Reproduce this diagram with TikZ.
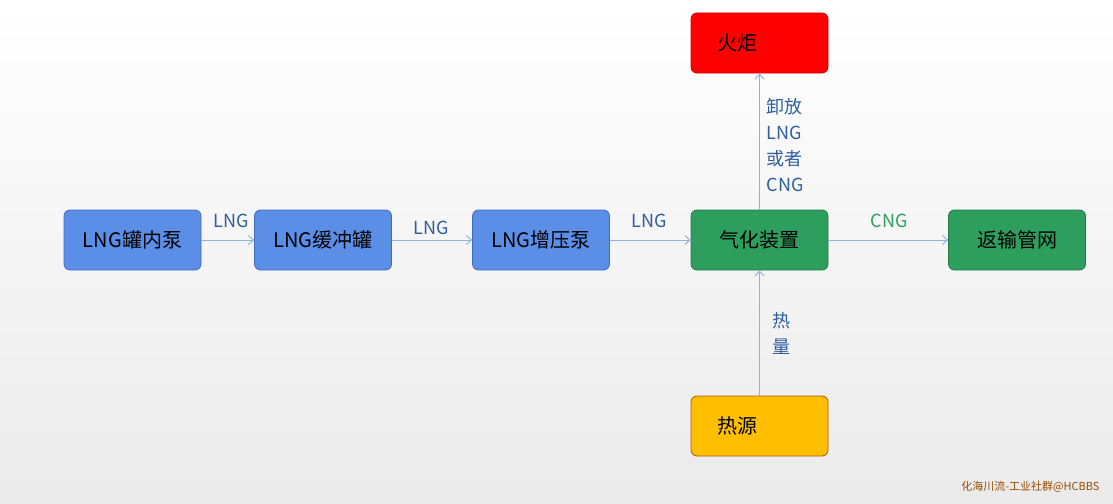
\documentclass[tikz,border=0pt]{standalone}
\usepackage{fontspec}
\setmainfont{Noto Sans CJK SC}
\usetikzlibrary{arrows.meta}
\definecolor{bfill}{HTML}{5B8EE6}
\definecolor{bdraw}{HTML}{3D6CC0}
\definecolor{gfill}{HTML}{2E9E5E}
\definecolor{gdraw}{HTML}{24784A}
\definecolor{arr}{HTML}{8DB3E2}
\definecolor{lab}{HTML}{2F5E9E}
\definecolor{cnglab}{HTML}{2E9E5E}
\begin{document}
\begin{tikzpicture}[x=1pt,y=-1pt,
  box/.style={rounded corners=6pt,minimum width=137pt,minimum height=60pt,line width=0.8pt,font=\fontsize{20}{24}\selectfont,inner sep=0pt},
  bluebox/.style={box,fill=bfill,draw=bdraw},
  greenbox/.style={box,fill=gfill,draw=gdraw},
  conn/.style={draw=arr,line width=1pt,-{Straight Barb[length=5pt,width=9pt]}},
  lbl/.style={text=lab,font=\fontsize{18}{20}\selectfont,inner sep=1pt}]
\shade[top color=white,bottom color=black!8] (0,0) rectangle (1113,503);
\useasboundingbox (0,0) rectangle (1113,503);
\node[bluebox] (a) at (132.5,240) {LNG罐内泵};
\node[bluebox] (b) at (323,240) {LNG缓冲罐};
\node[bluebox] (c) at (541,240) {LNG增压泵};
\node[greenbox] (d) at (759.5,240) {气化装置};
\node[greenbox] (e) at (1017,240) {返输管网};
\node[box,fill=red,draw=red!80!black] (f) at (759.5,43) {\hspace*{-44pt}火炬};
\node[box,fill=orange!50!yellow,draw=orange!70!black] (g) at (759.5,426) {\hspace*{-44pt}热源};
\draw[conn] (a) -- (b);
\draw[conn] (b) -- (c);
\draw[conn] (c) -- (d);
\draw[conn] (d) -- (e);
\draw[conn] (d) -- (f);
\draw[conn] (g) -- (d);
\node[lbl] (l1) at (231,221) {LNG};
\node[lbl] (l2) at (431,228) {LNG};
\node[lbl] (l3) at (649,221) {LNG};
\node[lbl,text=cnglab] (l4) at (889,221) {CNG};
\node[lbl,align=left,font=\fontsize{18}{26}\selectfont] (l5) at (785,145) {卸放\\LNG\\或者\\CNG};
\node[lbl,align=left,font=\fontsize{18}{26}\selectfont] (l6) at (781,333) {热\\量};
\node[text=orange!60!black,font=\fontsize{11}{13}\selectfont,anchor=east] (w) at (1103,487) {化海川流-工业社群@HCBBS};
\end{tikzpicture}
\end{document}
